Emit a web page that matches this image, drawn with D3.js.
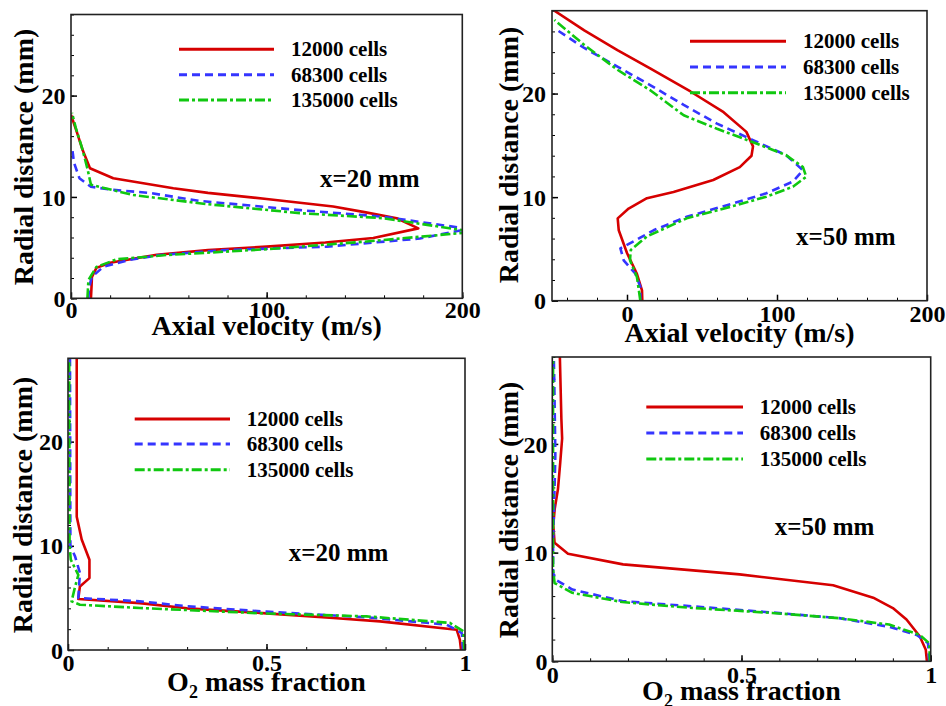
<!DOCTYPE html>
<html>
<head>
<meta charset="utf-8">
<script src="https://cdn.jsdelivr.net/npm/d3@7"></script>
<style>
  html, body { margin: 0; padding: 0; background: #fff; }
  svg { display: block; }
  text { font-family: "Liberation Serif", "Times New Roman", serif; font-weight: bold; fill: #000; }
</style>
</head>
<body>
<svg id="chart" width="946" height="706"></svg>
<script>
// ---------------- DATA ----------------
const seriesNames = ["12000 cells", "68300 cells", "135000 cells"];

// Panel A: axial velocity at x=20 mm  -> [velocity (m/s), radial distance (mm)]
const velX20_12000 = [[10.2,0],[10.5,1.2],[10.7,2.1],[13,3],[20,3.5],[43.8,4.3],[70,4.75],[100,5.1],[130,5.5],[154.5,5.95],[177.5,6.9],[166.5,7.9],[150,8.5],[134,9.05],[100,9.8],[70,10.4],[52.3,10.86],[21.6,11.85],[9.7,12.83],[6,14.6],[3,16.4],[0,18.1]];
const velX20_68300 = [[8.9,0],[9.2,1],[10.6,2.1],[16.5,3.1],[30,3.8],[45.5,4.27],[79.6,4.77],[130.7,5.1],[178.4,5.9],[203,6.85],[159.6,8.05],[117,8.7],[66,9.6],[40,10.4],[21.6,10.7],[10.2,11.0],[4.3,11.85],[1.5,13.4],[0.5,15]];
const velX20_135000 = [[8.4,0],[8.9,1.8],[13,3.1],[23.4,3.85],[49,4.27],[100,4.84],[151,5.6],[206,6.55],[159.6,7.9],[117,8.4],[69,9.3],[31.5,10.2],[10.2,11.2],[8.5,12.7],[6,14.6],[2.5,16.8],[0.5,18.3]];

// Panel B: axial velocity at x=50 mm
const velX50_12000 = [[10.2,0],[10,1],[6.6,2.6],[0,4.6],[-5.5,6.8],[-6.2,7.95],[1.1,8.9],[13.3,9.9],[31,10.5],[57.5,11.65],[75.2,12.9],[83,14],[84,14.9],[79.6,16.3],[64.4,18.2],[42.3,20.2],[15.7,22.4],[-6.4,24.2],[-28.5,26.1],[-48.4,28]];
const velX50_68300 = [[8.9,0],[8.9,1.35],[5.6,2.6],[-2.2,3.9],[-4.4,5.05],[6.6,5.9],[17.7,6.8],[39.8,8.1],[70.8,9.4],[92.9,10.37],[110.6,11.5],[117.3,12.6],[106,14.06],[84,15.5],[60,17.1],[37.8,18.9],[15.7,20.8],[-6.4,22.6],[-28.5,24.4],[-48.4,26.3]];
const velX50_135000 = [[8.9,0],[6.6,2.3],[2,3.9],[2.5,4.9],[13.3,6.2],[39.8,7.95],[70.8,9.14],[92.9,10.04],[110.6,11],[119.5,11.97],[117.3,12.9],[106,14.06],[84,15.3],[60,16.6],[37.8,17.9],[15.7,20.3],[-6.4,22.3],[-28.5,24.7],[-48.4,27.1]];

// Panel C: O2 mass fraction at x=20 mm  -> [mass fraction, radial distance (mm)]
const o2X20_12000 = [[0.99,0],[0.987,1.0],[0.979,1.95],[0.786,2.75],[0.668,3.07],[0.5,3.52],[0.3,4.0],[0.181,4.5],[0.026,4.9],[0.03,6.1],[0.054,6.9],[0.054,8.67],[0.0345,10.6],[0.022,12.8],[0.022,28]];
const o2X20_68300 = [[0.995,0],[0.992,1.63],[0.954,2.43],[0.752,3.14],[0.5,3.68],[0.3,4.2],[0.181,4.67],[0.026,5.0],[0.03,7.4],[0.0176,9.0],[0.006,10],[0.005,28]];
const o2X20_135000 = [[0.998,0],[0.996,1.8],[0.962,2.6],[0.752,3.23],[0.5,3.5],[0.181,4.03],[0.03,4.35],[0.009,4.67],[0.018,6.1],[0.026,7.2],[0.007,8.67],[0.004,10],[0.003,28]];

// Panel D: O2 mass fraction at x=50 mm
const o2X50_12000 = [[0.99,0],[0.987,1.07],[0.971,2.3],[0.936,3.85],[0.9,4.9],[0.848,5.85],[0.742,7.0],[0.495,8.0],[0.187,8.92],[0.0415,9.9],[0.006,10.9],[0.0026,12.5],[0.0063,14],[0.015,15.85],[0.021,18.3],[0.026,20.5],[0.024,22.3],[0.02,28]];
const o2X50_68300 = [[0.996,0],[0.993,1.66],[0.963,2.43],[0.89,3.17],[0.758,3.97],[0.581,4.49],[0.361,5.08],[0.185,5.54],[0.053,6.6],[0.009,7.5],[0.002,8.15],[0.002,11],[0.006,16],[0.008,19],[0.006,24],[0.004,28]];
const o2X50_135000 = [[0.998,0],[0.996,1.66],[0.971,2.43],[0.89,3.38],[0.758,3.97],[0.581,4.45],[0.361,4.93],[0.185,5.45],[0.053,6.3],[0.006,7.2],[0.002,8.5],[0.002,28]];

const velTicks = [0, 100, 200];
const o2Ticks = [0, 0.5, 1];
const radialTicks = [0, 10, 20];

// ---------------- STYLE / LAYOUT ----------------
const styles = [
  { color: "#d60000", dash: null, width: 2.6 },
  { color: "#3535ff", dash: "8,5", width: 2.6 },
  { color: "#10c810", dash: "10,3,3,3", width: 2.6 }
];

const panels = [
  { box: [71, 462.3, 14.5, 298.3], xDom: [0, 200], xTicks: velTicks, xMinorStep: 20, fmt: d => d,
    data: [velX20_12000, velX20_68300, velX20_135000],
    xTitle: "Axial velocity (m/s)", xTitleY: 335, xTickY: 318, yTitleX: 33, yTitleY: 157, yLabX: 65.5,
    legend: { x1: 179, x2: 274, tx: 291, ys: [49.3, 74.7, 100] },
    note: { text: "x=20 mm", x: 320, y: 186.5 } },
  { box: [552, 927, 10.7, 300.7], xDom: [-50, 200], xTicks: velTicks, xMinorStep: 20, fmt: d => d,
    data: [velX50_12000, velX50_68300, velX50_135000],
    xTitle: "Axial velocity (m/s)", xTitleY: 341.5, xTickY: 321.5, yTitleX: 518, yTitleY: 155, yLabX: 546,
    legend: { x1: 690, x2: 786, tx: 803, ys: [41.3, 67, 92.7] },
    note: { text: "x=50 mm", x: 796, y: 245 } },
  { box: [68, 465, 358.3, 650], xDom: [0, 1], xTicks: o2Ticks, xMinorStep: 0.1, fmt: d => d,
    data: [o2X20_12000, o2X20_68300, o2X20_135000],
    xTitle: "O2", xTitleY: 691, xTickY: 671, yTitleX: 31.5, yTitleY: 505, yLabX: 63,
    legend: { x1: 134.7, x2: 230, tx: 246.7, ys: [419, 444, 469.7] },
    note: { text: "x=20 mm", x: 288.7, y: 561.3 } },
  { box: [552.3, 930.7, 357, 661.3], xDom: [0, 1], xTicks: o2Ticks, xMinorStep: 0.1, fmt: d => d,
    data: [o2X50_12000, o2X50_68300, o2X50_135000],
    xTitle: "O2", xTitleY: 700, xTickY: 683, yTitleX: 518, yTitleY: 510, yLabX: 547.5,
    legend: { x1: 646.3, x2: 743, tx: 759.7, ys: [407, 433, 459] },
    note: { text: "x=50 mm", x: 774.7, y: 534.7 } }
];

const svg = d3.select("#chart");

panels.forEach((p, i) => {
  const [L, R, T, B] = p.box;
  const x = d3.scaleLinear().domain(p.xDom).range([L, R]);
  const y = d3.scaleLinear().domain([0, 28]).range([B, T]);
  const g = svg.append("g");

  const clipId = "clip" + i;
  svg.append("defs").append("clipPath").attr("id", clipId)
    .append("rect").attr("x", L).attr("y", T).attr("width", R - L).attr("height", B - T);

  // minor ticks
  const xMin = Math.ceil(p.xDom[0] / p.xMinorStep) * p.xMinorStep;
  const xMinorVals = d3.range(0, Math.floor((p.xDom[1] - xMin) / p.xMinorStep + 1e-6) + 1)
    .map(k => +(xMin + k * p.xMinorStep).toFixed(6));
  g.append("g").attr("transform", `translate(0,${B})`)
    .call(d3.axisBottom(x).tickValues(xMinorVals).tickSize(-3).tickFormat(""))
    .call(a => a.select(".domain").remove())
    .call(a => a.selectAll("line").attr("stroke", "#000").attr("stroke-width", 1));
  g.append("g").attr("transform", `translate(${L},0)`)
    .call(d3.axisLeft(y).tickValues(d3.range(0, 29, 2)).tickSize(-3).tickFormat(""))
    .call(a => a.select(".domain").remove())
    .call(a => a.selectAll("line").attr("stroke", "#000").attr("stroke-width", 1));

  // major ticks
  const xa = g.append("g").attr("transform", `translate(0,${B})`)
    .call(d3.axisBottom(x).tickValues(p.xTicks).tickSize(-6).tickFormat(p.fmt))
    .call(a => a.select(".domain").remove());
  xa.selectAll("line").attr("stroke", "#000").attr("stroke-width", 1.5);
  xa.selectAll("text").attr("y", p.xTickY - B).attr("dy", null)
    .attr("font-family", "Liberation Serif, serif").attr("font-weight", "bold").attr("font-size", 24).attr("fill", "#000");

  const ya = g.append("g").attr("transform", `translate(${L},0)`)
    .call(d3.axisLeft(y).tickValues(radialTicks).tickSize(-6))
    .call(a => a.select(".domain").remove());
  ya.selectAll("line").attr("stroke", "#000").attr("stroke-width", 1.5);
  ya.selectAll("text").attr("x", p.yLabX - L).attr("dy", "0.34em")
    .attr("font-family", "Liberation Serif, serif").attr("font-weight", "bold").attr("font-size", 24).attr("fill", "#000");

  // curves
  const line = d3.line().x(d => x(d[0])).y(d => y(d[1]));
  const cg = g.append("g").attr("clip-path", `url(#${clipId})`);
  p.data.forEach((series, si) => {
    const st = styles[si];
    cg.append("path").datum(series)
      .attr("d", line).attr("fill", "none")
      .attr("stroke", st.color).attr("stroke-width", st.width)
      .attr("stroke-dasharray", st.dash).attr("stroke-linejoin", "round");
  });

  // frame
  g.append("rect").attr("x", L).attr("y", T).attr("width", R - L).attr("height", B - T)
    .attr("fill", "none").attr("stroke", "#222").attr("stroke-width", 1.6);

  // legend
  seriesNames.forEach((name, si) => {
    const st = styles[si];
    const ly = p.legend.ys[si];
    g.append("line").attr("x1", p.legend.x1).attr("x2", p.legend.x2).attr("y1", ly).attr("y2", ly)
      .attr("stroke", st.color).attr("stroke-width", 3).attr("stroke-dasharray", st.dash);
    g.append("text").attr("x", p.legend.tx).attr("y", ly + 7).attr("font-size", 21).text(name);
  });

  // annotation
  g.append("text").attr("x", p.note.x).attr("y", p.note.y).attr("font-size", 25).text(p.note.text);

  // x title
  const xt = g.append("text").attr("x", (L + R) / 2).attr("y", p.xTitleY)
    .attr("text-anchor", "middle").attr("font-size", 28);
  if (p.xTitle === "O2") {
    xt.append("tspan").text("O");
    xt.append("tspan").attr("font-size", 18).attr("dy", 7).text("2");
    xt.append("tspan").attr("dy", -7).text(" mass fraction");
  } else {
    xt.text(p.xTitle);
  }

  // y title
  g.append("text").attr("transform", `translate(${p.yTitleX},${p.yTitleY}) rotate(-90)`)
    .attr("text-anchor", "middle").attr("font-size", 28).text("Radial distance (mm)");
});
</script>
</body>
</html>
